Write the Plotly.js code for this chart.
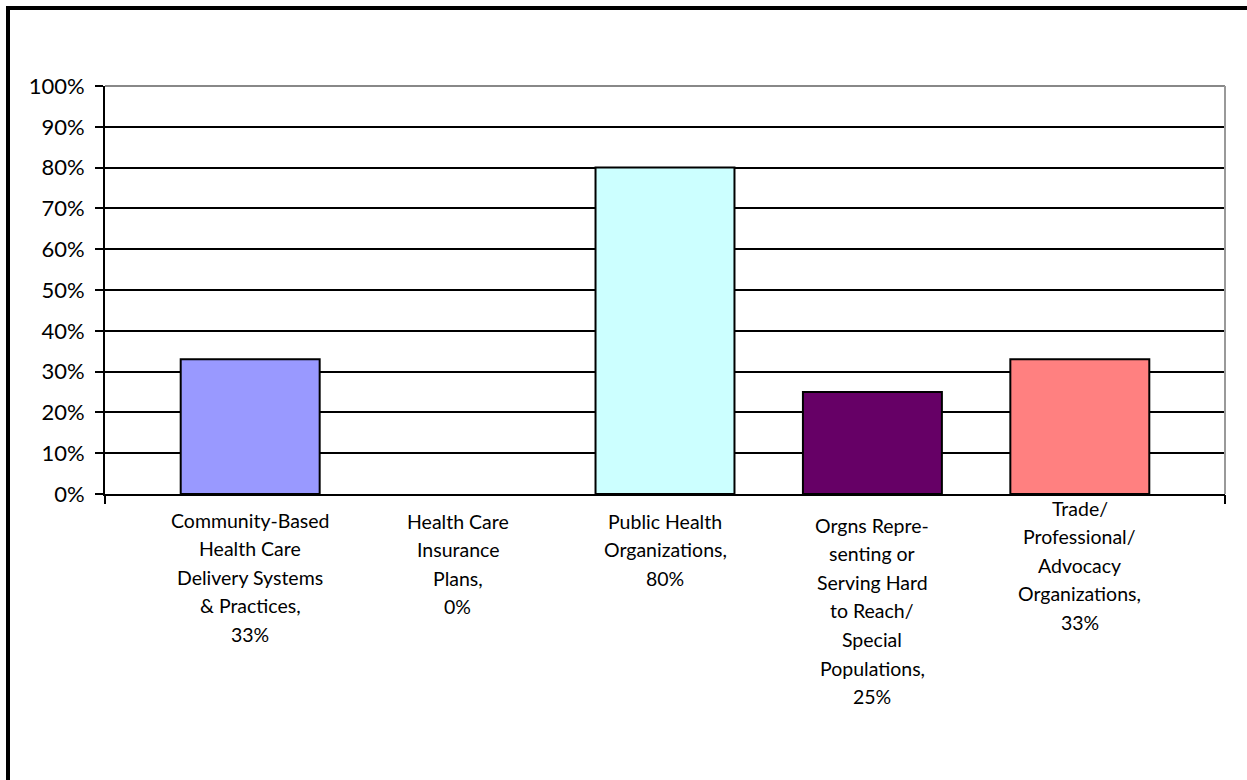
<!DOCTYPE html>
<html>
<head>
<meta charset="utf-8">
<script src="https://cdn.plot.ly/plotly-3.0.1.min.js"></script>
<style>
  html, body { margin: 0; padding: 0; background: #fff; overflow: hidden; }
  #chart { position: absolute; left: 0; top: 0; width: 1247px; height: 780px; }
</style>
</head>
<body>
<div id="chart"></div>
<script>
const categories = [
  "Community-Based<br>Health Care<br>Delivery Systems<br>& Practices,<br>33%",
  "Health Care<br>Insurance<br>Plans,<br>0%",
  "Public Health<br>Organizations,<br>80%",
  "Orgns Repre-<br>senting or<br>Serving Hard<br>to Reach/<br>Special<br>Populations,<br>25%",
  "Trade/<br>Professional/<br>Advocacy<br>Organizations,<br>33%"
];
const values = [0.33, 0.0, 0.80, 0.25, 0.33];
const barColors = ["#9999FF", "#993366", "#CCFFFF", "#660066", "#FF8080"];
const yTickVals = [0, 0.1, 0.2, 0.3, 0.4, 0.5, 0.6, 0.7, 0.8, 0.9, 1.0];

const idx = categories.map((c, i) => i);
const font = "Lato, 'Open Sans', sans-serif";

// layout: vertical position (px below the zero line) of each label's first line, and line pitch
const labelFirstLine = [26, 27, 27, 31, 14];
const labelPitch = 28.6;

const W = 1247, H = 780;
const M = { l: 105, r: 22, t: 86, b: 286 };
const plotW = W - M.l - M.r, plotH = H - M.t - M.b;
// outer chart frame (px position of its centre line from page top/left)
const frameAt = 8;
const fx = (frameAt - M.l) / plotW;           // paper x of the left frame edge
const fy = 1 + (M.t - frameAt) / plotH;       // paper y of the top frame edge
const fyBottom = 1 - (H + 20 - M.t) / plotH;  // beyond the bottom of the page
const fxRight = 1 + (M.r + 20) / plotW;       // beyond the right of the page

const data = [{
  type: "bar",
  x: idx,
  y: values,
  width: 0.67,
  marker: { color: barColors, line: { color: "#000", width: values.map(v => v > 0 ? 2 : 0) } },
  hoverinfo: "none"
}];

const annotations = [];
categories.forEach((label, i) => {
  label.split("<br>").forEach((line, k) => {
    annotations.push({
      x: i, xref: "x", y: 0, yref: "y",
      text: line, showarrow: false,
      xanchor: "center", yanchor: "middle",
      yshift: -(labelFirstLine[i] + k * labelPitch),
      font: { size: 19.5, family: font, color: "#000" }
    });
  });
});

const layout = {
  width: W, height: H,
  margin: M,
  paper_bgcolor: "#fff", plot_bgcolor: "#fff",
  showlegend: false,
  font: { family: font, color: "#000" },
  xaxis: {
    range: [-0.7, 4.7],
    tickmode: "array", tickvals: idx, showticklabels: false,
    ticks: "", showgrid: false, zeroline: false,
    showline: true, linecolor: "#000", linewidth: 2,
    fixedrange: true
  },
  xaxis2: {
    overlaying: "x", range: [-0.7, 4.7],
    tickmode: "array", tickvals: [-0.7, 4.7],
    ticks: "outside", ticklen: 9, tickwidth: 2, tickcolor: "#000",
    showticklabels: false, showgrid: false, zeroline: false, showline: false,
    side: "bottom", anchor: "y"
  },
  yaxis: {
    range: [0, 1],
    tickmode: "array", tickvals: yTickVals, tickformat: ".0%",
    ticks: "outside", ticklen: 8, tickwidth: 2, tickcolor: "#000",
    ticklabelstandoff: 6,
    showgrid: true, gridcolor: "#000", gridwidth: 2,
    zeroline: false, showline: true, linecolor: "#000", linewidth: 2,
    tickfont: { size: 22, family: font, color: "#000" },
    fixedrange: true
  },
  annotations: annotations,
  shapes: [
    { type: "line", xref: "paper", yref: "paper", x0: 0, x1: 1, y0: 1, y1: 1, line: { color: "#888", width: 2 }, layer: "above" },
    { type: "line", xref: "paper", yref: "paper", x0: 1, x1: 1, y0: 0, y1: 1, line: { color: "#999", width: 2 }, layer: "above" },
    { type: "line", xref: "paper", yref: "paper", x0: fx - 2 / plotW, x1: fxRight, y0: fy, y1: fy, line: { color: "#000", width: 4 }, layer: "above" },
    { type: "line", xref: "paper", yref: "paper", x0: fx, x1: fx, y0: fy + 2 / plotH, y1: fyBottom, line: { color: "#000", width: 4 }, layer: "above" }
  ]
};

data.push({ type: "scatter", x: [-0.7], y: [0], xaxis: "x2", yaxis: "y", mode: "markers", marker: { opacity: 0 }, hoverinfo: "none" });

Plotly.newPlot("chart", data, layout, { displayModeBar: false, staticPlot: true });
</script>
</body>
</html>
